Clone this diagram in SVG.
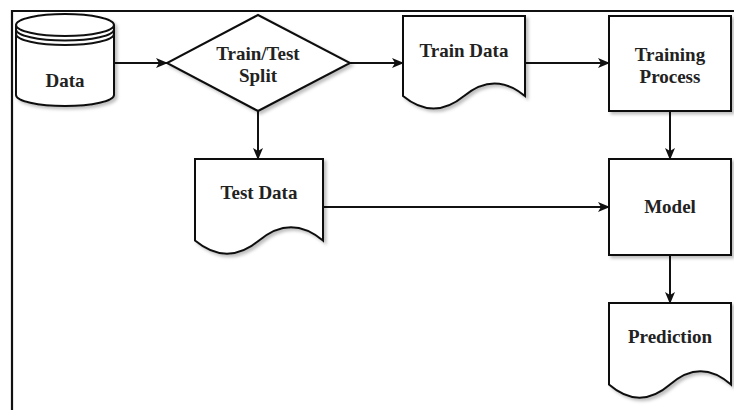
<svg xmlns="http://www.w3.org/2000/svg" width="734" height="410" viewBox="0 0 734 410">
<defs>
<style>
.shape{fill:#fff;stroke:#111;stroke-width:2;filter:url(#sh)}
.line{fill:none;stroke:#111;stroke-width:2}
.edge{fill:none;stroke:#111;stroke-width:2;marker-end:url(#arr)}
.lbl{font-family:"Liberation Serif","Times New Roman",serif;font-weight:bold;font-size:19px;fill:#222;text-anchor:middle}
</style>
<filter id="sh" x="-10%" y="-10%" width="125%" height="125%">
<feDropShadow dx="2.5" dy="2.5" stdDeviation="1.5" flood-color="#000" flood-opacity="0.25"/>
</filter>
<marker id="arr" viewBox="0 0 12 10" refX="11" refY="5" markerWidth="12" markerHeight="10" markerUnits="userSpaceOnUse" orient="auto">
<path d="M0,0 L12,5 L0,10 L3,5 Z" fill="#111"/>
</marker>
</defs>
<rect width="734" height="410" fill="#fff"/>
<path d="M12,412 V11 H736" fill="none" stroke="#111" stroke-width="2.2"/>

<g id="connectors">
<line class="edge" x1="114" y1="63" x2="167" y2="63"/>
<line class="edge" x1="350" y1="63" x2="403" y2="63"/>
<line class="edge" x1="525" y1="63" x2="609" y2="63"/>
<line class="edge" x1="258" y1="111" x2="258" y2="159"/>
<line class="edge" x1="670" y1="111" x2="670" y2="159"/>
<line class="edge" x1="323" y1="207" x2="609" y2="207"/>
<line class="edge" x1="670" y1="255" x2="670" y2="303"/>
</g>

<g id="data">
<path class="shape" d="M16,25 A49,11 0 0 1 114,25 V95 A49,11 0 0 1 16,95 Z"/>
<path class="line" d="M16,25 A49,11 0 0 0 114,25 M16,29.5 A49,11 0 0 0 114,29.5 M16,34 A49,11 0 0 0 114,34"/>
<text class="lbl" x="65" y="87">Data</text>
</g>

<g id="split">
<polygon class="shape" points="258,15 350,63 258,111 167,63"/>
<text class="lbl" x="258" y="60">Train/Test</text>
<text class="lbl" x="258" y="82">Split</text>
</g>

<g id="train-data">
<path class="shape" d="M403,16 H525 V96 Q494.5,71 464,96 Q433.5,121 403,96 Z"/>
<text class="lbl" x="464" y="57">Train Data</text>
</g>

<g id="training-process">
<rect class="shape" x="609" y="16" width="122" height="95"/>
<text class="lbl" x="670" y="61">Training</text>
<text class="lbl" x="670" y="83">Process</text>
</g>

<g id="test-data">
<path class="shape" d="M195,159 H323 V240.6 Q291,214 259,240.6 Q227,267 195,240.6 Z"/>
<text class="lbl" x="259" y="199">Test Data</text>
</g>

<g id="model">
<rect class="shape" x="609" y="159" width="122" height="96"/>
<text class="lbl" x="670" y="213">Model</text>
</g>

<g id="prediction">
<path class="shape" d="M609,303 H731 V384.6 Q700.5,358 670,384.6 Q639.5,411 609,384.6 Z"/>
<text class="lbl" x="670" y="343">Prediction</text>
</g>
</svg>
